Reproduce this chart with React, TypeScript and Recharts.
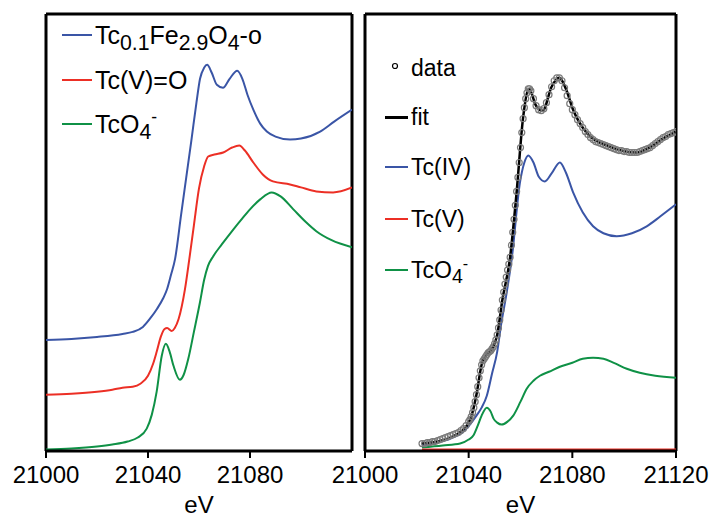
import React from 'react';
import { LineChart, Line, XAxis, YAxis, ReferenceLine } from 'recharts';

const FONT = '"Liberation Sans", Arial, Helvetica, sans-serif';
const BLUE = '#3A55A6';
const RED = '#EC2F25';
const GREEN = '#0F9146';

const Y_DOMAIN: [number, number] = [-0.015, 4.37];
const E_DOMAIN: [number, number] = [21000, 21120];
const LEFT_TICKS = [21000, 21040, 21080];
const RIGHT_TICKS = [21000, 21040, 21080, 21120];

// left panel: reference spectra, stacked with offsets
const tcFeE = [21000, 21010, 21020, 21030, 21034, 21038, 21041, 21043.5, 21046, 21047.5, 21049, 21050.6, 21053, 21055, 21057, 21059, 21060.4, 21062, 21063.2, 21065, 21067, 21069.4, 21072, 21075, 21077, 21079, 21081.3, 21084, 21086.6, 21090, 21095.7, 21100, 21107.5, 21113, 21120];
const tcFeMu = [1.10, 1.11, 1.13, 1.16, 1.18, 1.23, 1.32, 1.41, 1.52, 1.61, 1.75, 1.91, 2.36, 2.73, 3.10, 3.48, 3.72, 3.83, 3.86, 3.78, 3.66, 3.63, 3.72, 3.80, 3.72, 3.56, 3.41, 3.27, 3.19, 3.14, 3.11, 3.12, 3.19, 3.29, 3.41];

const tcVE = [21000, 21010, 21020, 21026, 21030, 21034, 21037, 21040, 21042, 21043.4, 21045, 21046.5, 21047.5, 21049.3, 21050.5, 21052, 21054.5, 21056.2, 21058, 21060, 21062, 21063.6, 21066, 21069.5, 21073, 21075.8, 21078, 21081.3, 21085, 21089, 21095.7, 21100, 21106, 21112.6, 21120];
const tcVMu = [0.55, 0.56, 0.58, 0.60, 0.62, 0.63, 0.66, 0.74, 0.86, 0.98, 1.13, 1.21, 1.22, 1.19, 1.22, 1.31, 1.61, 1.91, 2.25, 2.62, 2.84, 2.94, 2.96, 2.98, 3.03, 3.05, 3.00, 2.88, 2.76, 2.69, 2.66, 2.63, 2.59, 2.58, 2.63];

const tcO4E = [21000, 21010, 21020, 21026, 21032, 21036, 21039.5, 21041.5, 21043.4, 21045.4, 21047, 21048.5, 21050, 21052.5, 21054, 21055.8, 21058, 21060.4, 21062, 21063.5, 21065.6, 21069, 21073.5, 21077, 21080, 21084, 21088.5, 21092, 21097, 21102, 21106, 21112, 21120];
const tcO4Mu = [0.00, 0.01, 0.03, 0.05, 0.08, 0.12, 0.21, 0.35, 0.58, 0.94, 1.06, 0.98, 0.84, 0.70, 0.75, 0.91, 1.18, 1.48, 1.70, 1.84, 1.94, 2.06, 2.21, 2.32, 2.41, 2.51, 2.58, 2.54, 2.41, 2.28, 2.19, 2.10, 2.03];

// right panel: sample data, fit and components
const dataE = [21022, 21023, 21024, 21025, 21026, 21027, 21028, 21029, 21030, 21031, 21032, 21033, 21034, 21035, 21036, 21037, 21038, 21039,
  21040, 21040.5, 21041, 21041.5, 21042, 21042.5, 21043, 21043.5, 21044, 21044.5, 21045, 21045.5, 21046, 21046.5, 21047, 21047.5, 21048, 21048.5, 21049, 21049.5,
  21050, 21050.5, 21051, 21051.5, 21052, 21052.5, 21053, 21053.5, 21054, 21054.5, 21055, 21055.5, 21056, 21056.5, 21057, 21057.5, 21058, 21058.5, 21059, 21059.5,
  21060, 21060.5, 21061, 21061.5, 21062, 21062.5, 21063, 21063.5, 21064, 21065, 21066, 21067, 21068, 21069, 21070, 21071, 21072, 21073, 21074, 21075, 21076, 21077, 21078, 21079,
  21080, 21081, 21082, 21083, 21084, 21085, 21086, 21087, 21088, 21089, 21090, 21091, 21092, 21093, 21094, 21095, 21096, 21097, 21098, 21099,
  21100, 21101, 21102, 21103, 21104, 21105, 21106, 21107, 21108, 21109, 21110, 21111, 21112, 21113, 21114, 21115, 21116, 21117, 21118, 21119, 21120];
const dataMu = [0.06, 0.06, 0.07, 0.07, 0.08, 0.08, 0.09, 0.10, 0.11, 0.12, 0.13, 0.14, 0.15, 0.16, 0.17, 0.19, 0.21, 0.24,
  0.28, 0.30, 0.33, 0.37, 0.42, 0.48, 0.55, 0.63, 0.72, 0.79, 0.85, 0.89, 0.91, 0.93, 0.95, 0.97, 0.98, 0.99, 1.01, 1.03,
  1.06, 1.10, 1.15, 1.22, 1.30, 1.40, 1.50, 1.58, 1.66, 1.73, 1.80, 1.86, 1.93, 2.05, 2.18, 2.31, 2.45, 2.59, 2.73, 2.88,
  3.03, 3.18, 3.32, 3.43, 3.52, 3.58, 3.62, 3.62, 3.60, 3.52, 3.45, 3.41, 3.40, 3.42, 3.48, 3.56, 3.64, 3.70, 3.73, 3.73, 3.70, 3.63, 3.55, 3.47,
  3.41, 3.36, 3.31, 3.27, 3.23, 3.19, 3.16, 3.13, 3.11, 3.09, 3.08, 3.07, 3.06, 3.05, 3.04, 3.03, 3.02, 3.01, 3.00, 3.00,
  2.99, 2.99, 2.98, 2.98, 2.98, 2.98, 2.99, 3.00, 3.01, 3.02, 3.03, 3.05, 3.07, 3.09, 3.11, 3.13, 3.14, 3.16, 3.17, 3.18, 3.19];

const fitE = [21022, 21028, 21032, 21036, 21039, 21041, 21043, 21045, 21047, 21049, 21051, 21053, 21055.9, 21058.5, 21061, 21063.3, 21066, 21068.6, 21072, 21075, 21077.5, 21080.3, 21085.5, 21094.5, 21104.8, 21111, 21115, 21120];
const fitMu = [0.06, 0.08, 0.11, 0.16, 0.23, 0.33, 0.55, 0.85, 0.95, 1.01, 1.15, 1.50, 1.91, 2.58, 3.33, 3.62, 3.45, 3.40, 3.64, 3.73, 3.62, 3.41, 3.18, 3.04, 2.98, 3.05, 3.12, 3.19];

const ivE = [21022, 21028, 21033, 21038, 21043, 21045, 21047, 21049, 21051, 21052.5, 21054.7, 21056.6, 21059.8, 21061.5, 21063, 21065, 21067, 21069.4, 21072, 21075.2, 21077.5, 21080.3, 21084, 21088, 21092, 21097.1, 21103, 21108.7, 21114, 21120];
const ivMu = [0.04, 0.07, 0.11, 0.18, 0.34, 0.42, 0.54, 0.76, 0.98, 1.25, 1.58, 1.91, 2.68, 2.88, 2.95, 2.88, 2.74, 2.69, 2.77, 2.88, 2.78, 2.58, 2.38, 2.24, 2.17, 2.14, 2.17, 2.24, 2.34, 2.46];

const vE = [21022, 21060, 21120];
const vMu = [0, 0, 0];

const o4E = [21022, 21030, 21036.7, 21040, 21041.8, 21043.5, 21045, 21047, 21048.5, 21049.6, 21051, 21052.7, 21055, 21057.2, 21060, 21062.4, 21065, 21067.5, 21071, 21075.2, 21080, 21084, 21088, 21092, 21096, 21101, 21106, 21112, 21120];
const o4Mu = [0.02, 0.04, 0.06, 0.10, 0.14, 0.24, 0.34, 0.42, 0.38, 0.31, 0.27, 0.25, 0.28, 0.34, 0.48, 0.61, 0.69, 0.74, 0.78, 0.83, 0.87, 0.91, 0.92, 0.91, 0.87, 0.81, 0.77, 0.74, 0.72];

const pts = (e: number[], v: number[]) => e.map((x, i) => ({ e: x, v: v[i] }));

const frame = { stroke: '#000', strokeWidth: 3 };
const tickStyle = { fill: '#000', fontSize: 24, fontFamily: FONT };

const Sub = ({ children }: { children: React.ReactNode }) => (
  <span style={{ fontSize: '0.85em', position: 'relative', top: '0.3em' }}>{children}</span>
);
const Sup = ({ children }: { children: React.ReactNode }) => (
  <span style={{ fontSize: '0.7em', position: 'relative', top: '-0.55em' }}>{children}</span>
);

function LegendRow({ y, x, len, color, width = 2, children, fontSize }: any) {
  return (
    <div style={{ position: 'absolute', left: x, top: y - 16, height: 32, display: 'flex', alignItems: 'center', fontSize, fontFamily: FONT, color: '#000', whiteSpace: 'nowrap' }}>
      <div style={{ width: len, height: width, background: color, marginRight: 3 }} />
      <span>{children}</span>
    </div>
  );
}

// bottom axis with ticks + the other three sides of the box
function axes(ticks: number[]) {
  return [
    <XAxis key="x" dataKey="e" type="number" domain={E_DOMAIN} ticks={ticks} interval={0} allowDataOverflow
      height={66} tickSize={7} tickMargin={8} tick={tickStyle} axisLine={frame} tickLine={{ stroke: '#000', strokeWidth: 2 }}
      label={{ value: 'eV', position: 'insideBottom', offset: 4, fill: '#000', fontSize: 24, fontFamily: FONT }} />,
    <YAxis key="y" type="number" domain={Y_DOMAIN} allowDataOverflow hide />,
    <ReferenceLine key="l" x={E_DOMAIN[0]} stroke="#000" strokeWidth={3} />,
    <ReferenceLine key="r" x={E_DOMAIN[1]} stroke="#000" strokeWidth={3} />,
    <ReferenceLine key="t" y={Y_DOMAIN[1]} stroke="#000" strokeWidth={3} />,
  ];
}

export default function App() {
  return (
    <div style={{ position: 'absolute', left: 0, top: 0, width: 712, height: 517, background: '#fff', overflow: 'hidden' }}>
      <div style={{ position: 'absolute', left: 0, top: 0 }}>
        <LineChart width={360} height={517} margin={{ top: 14, right: 8, bottom: 0, left: 46 }}>
          {axes(LEFT_TICKS)}
          <Line data={pts(tcO4E, tcO4Mu)} dataKey="v" type="monotone" stroke={GREEN} strokeWidth={2} dot={false} isAnimationActive={false} />
          <Line data={pts(tcVE, tcVMu)} dataKey="v" type="monotone" stroke={RED} strokeWidth={2} dot={false} isAnimationActive={false} />
          <Line data={pts(tcFeE, tcFeMu)} dataKey="v" type="monotone" stroke={BLUE} strokeWidth={2} dot={false} isAnimationActive={false} />
        </LineChart>
      </div>
      <div style={{ position: 'absolute', left: 320, top: 0 }}>
        <LineChart width={392} height={517} margin={{ top: 14, right: 36, bottom: 0, left: 45 }}>
          {axes(RIGHT_TICKS)}
          <Line data={pts(o4E, o4Mu)} dataKey="v" type="monotone" stroke={GREEN} strokeWidth={2} dot={false} isAnimationActive={false} />
          <Line data={pts(ivE, ivMu)} dataKey="v" type="monotone" stroke={BLUE} strokeWidth={2} dot={false} isAnimationActive={false} />
          <Line data={pts(dataE, dataMu)} dataKey="v" stroke="none" dot={{ r: 3, stroke: '#7a7a7a', strokeWidth: 1.2, fill: 'none' }} isAnimationActive={false} />
          <Line data={pts(fitE, fitMu)} dataKey="v" type="monotone" stroke="#000" strokeWidth={2.5} dot={false} isAnimationActive={false} />
          <Line data={pts(vE, vMu)} dataKey="v" type="linear" stroke={RED} strokeWidth={2} dot={false} isAnimationActive={false} />
        </LineChart>
      </div>

      <LegendRow x={62} y={35} len={30} color={BLUE} fontSize={25}>Tc<Sub>0.1</Sub>Fe<Sub>2.9</Sub>O<Sub>4</Sub>-o</LegendRow>
      <LegendRow x={62} y={80} len={30} color={RED} fontSize={25}>Tc(V)=O</LegendRow>
      <LegendRow x={62} y={124} len={30} color={GREEN} fontSize={25}>TcO<Sub>4</Sub><Sup>-</Sup></LegendRow>

      <div style={{ position: 'absolute', left: 385, top: 52, height: 32, display: 'flex', alignItems: 'center', fontSize: 23, fontFamily: FONT, color: '#000' }}>
        <svg width={26} height={32}>
          <circle cx={10} cy={14} r={2.5} fill="none" stroke="#000" strokeWidth={1.2} />
        </svg>
        <span>data</span>
      </div>
      <LegendRow x={385} y={117} len={23} color="#000" width={3} fontSize={23}>fit</LegendRow>
      <LegendRow x={385} y={167} len={23} color={BLUE} fontSize={23}>Tc(IV)</LegendRow>
      <LegendRow x={385} y={219} len={23} color={RED} fontSize={23}>Tc(V)</LegendRow>
      <LegendRow x={385} y={270} len={23} color={GREEN} fontSize={23}>TcO<Sub>4</Sub><Sup>-</Sup></LegendRow>
    </div>
  );
}
